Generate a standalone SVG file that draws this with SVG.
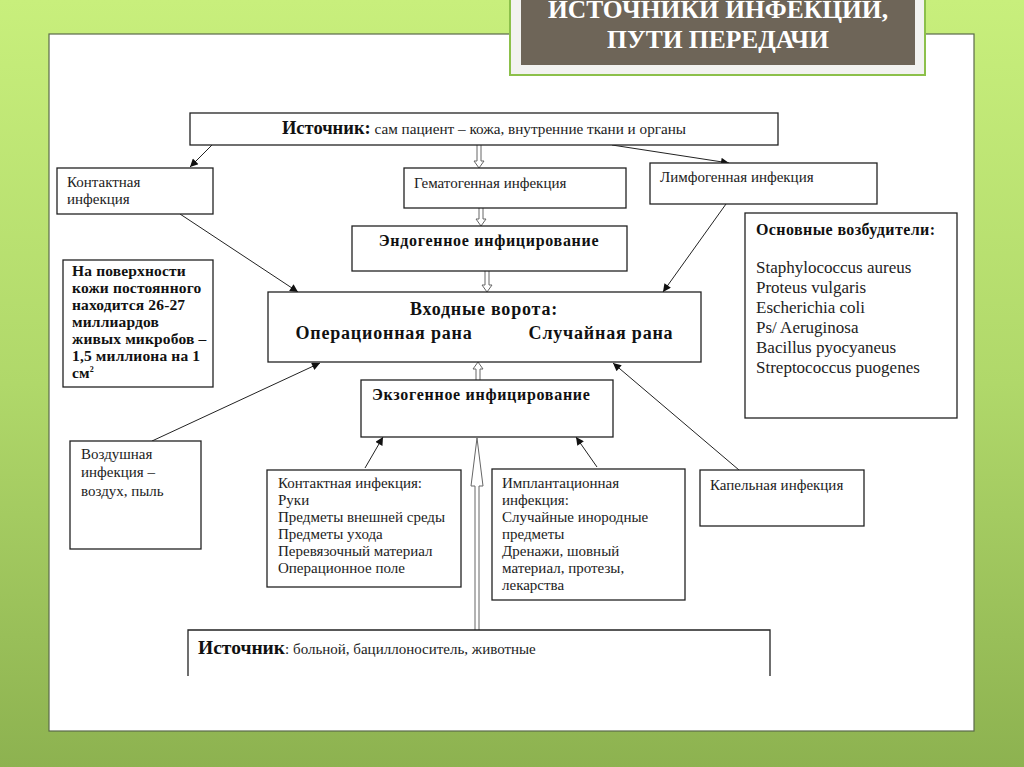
<svg xmlns="http://www.w3.org/2000/svg" width="1024" height="767" viewBox="0 0 1024 767">
<defs>
<linearGradient id="bg" x1="0" y1="0" x2="0" y2="1">
<stop offset="0" stop-color="#c8ef7c"/>
<stop offset="0.5" stop-color="#b0d86a"/>
<stop offset="1" stop-color="#8db250"/>
</linearGradient>
<marker id="ah" viewBox="0 0 10 10" refX="10" refY="5" markerWidth="9" markerHeight="8" markerUnits="userSpaceOnUse" orient="auto">
<path d="M0,0 L10,5 L0,10 z" fill="#111"/>
</marker>
<style>
.box{fill:#fff;stroke:#222;stroke-width:1.3}
.t{font-family:"Liberation Serif","Times New Roman",serif;font-size:15px;fill:#222}
.b{font-family:"Liberation Serif","Times New Roman",serif;font-weight:bold;fill:#111}
.ln{stroke:#222;stroke-width:1;fill:none;marker-end:url(#ah)}
.ha{fill:#fff;stroke:#666;stroke-width:1}
</style>
</defs>
<rect x="0" y="0" width="1024" height="767" fill="url(#bg)"/>
<rect x="49" y="34" width="925" height="697" fill="#fff" stroke="#5a6a4a" stroke-width="1.2"/>
<g id="title">
<rect x="510" y="-2" width="415" height="77" fill="#f2f2f0" stroke="#8cc04a" stroke-width="2"/>
<rect x="521" y="-2" width="394" height="67" fill="#6e6558"/>
<text x="718" y="18" text-anchor="middle" class="b" style="font-size:25.5px;fill:#fff">ИСТОЧНИКИ ИНФЕКЦИИ,</text>
<text x="718" y="48" text-anchor="middle" class="b" style="font-size:25.5px;fill:#fff">ПУТИ ПЕРЕДАЧИ</text>
</g>
<g id="connectors">
<line class="ln" x1="212" y1="145" x2="190" y2="167"/>
<line class="ln" x1="612" y1="145" x2="729" y2="163"/>
<line class="ln" x1="180" y1="214" x2="298" y2="292"/>
<line class="ln" x1="726" y1="204" x2="663" y2="292"/>
<line class="ln" x1="152" y1="441" x2="320" y2="363"/>
<line class="ln" x1="365" y1="468" x2="383" y2="437"/>
<line class="ln" x1="597" y1="467" x2="576" y2="437"/>
<line class="ln" x1="739" y1="470" x2="613" y2="363"/>
<polyline class="ha" points="477,145 477,161 474,161 479,168 484,161 481,161 481,145"/>
<polyline class="ha" points="479,208 479,219 476,219 481,226 486,219 483,219 483,208"/>
<polyline class="ha" points="485,271 485,285 482,285 487,292 492,285 489,285 489,271"/>
<polyline class="ha" points="476,380 476,369 473,369 478,362 483,369 480,369 480,380"/>
<polyline class="ha" points="475,630 475,486 471,486 477,438 483,486 479,486 479,630"/>
</g>
<g id="src-top">
<rect class="box" x="190" y="113" width="588" height="32"/>
<text x="484" y="134" text-anchor="middle"><tspan class="b" style="font-size:18.5px">Источник:</tspan><tspan class="t" style="font-size:15.2px"> сам пациент – кожа, внутренние ткани и органы</tspan></text>
</g>
<g id="contact-top">
<rect class="box" x="57" y="168" width="156" height="46"/>
<text class="t" x="67" y="187">Контактная</text>
<text class="t" x="67" y="204">инфекция</text>
</g>
<g id="hemato">
<rect class="box" x="404" y="168" width="222" height="40"/>
<text class="t" x="414" y="188">Гематогенная инфекция</text>
</g>
<g id="lympho">
<rect class="box" x="650" y="163" width="227" height="41"/>
<text class="t" x="660" y="182">Лимфогенная инфекция</text>
</g>
<g id="endo">
<rect class="box" x="352" y="226" width="275" height="45"/>
<text class="b" x="489" y="246" text-anchor="middle" style="font-size:16px;letter-spacing:0.7px">Эндогенное инфицирование</text>
</g>
<g id="info">
<rect class="box" x="63" y="260" width="150" height="127"/>
<text class="b" style="font-size:15.5px;letter-spacing:0.15px">
<tspan x="72" y="276">На поверхности</tspan>
<tspan x="72" y="293">кожи постоянного</tspan>
<tspan x="72" y="310">находится 26-27</tspan>
<tspan x="72" y="327">миллиардов</tspan>
<tspan x="72" y="344">живых микробов –</tspan>
<tspan x="72" y="361">1,5 миллиона на 1</tspan>
<tspan x="72" y="378">см</tspan><tspan dy="-6" style="font-size:8px">2</tspan>
</text>
</g>
<g id="gate">
<rect class="box" x="268" y="292" width="433" height="70"/>
<text class="b" x="484" y="315" text-anchor="middle" style="font-size:18px;letter-spacing:0.8px">Входные ворота:</text>
<text class="b" x="384" y="339" text-anchor="middle" style="font-size:18px;letter-spacing:0.8px">Операционная рана</text>
<text class="b" x="601" y="339" text-anchor="middle" style="font-size:18px;letter-spacing:0.8px">Случайная рана</text>
</g>
<g id="pathogens">
<rect class="box" x="745" y="213" width="212" height="205"/>
<text class="b" x="756" y="235" style="font-size:16px;letter-spacing:0.4px">Основные возбудители:</text>
<text class="t" style="font-size:17px">
<tspan x="756" y="273">Staphylococcus aureus</tspan>
<tspan x="756" y="293">Proteus vulgaris</tspan>
<tspan x="756" y="313">Escherichia coli</tspan>
<tspan x="756" y="333">Ps/ Aeruginosa</tspan>
<tspan x="756" y="353">Bacillus pyocyaneus</tspan>
<tspan x="756" y="373">Streptococcus puogenes</tspan>
</text>
</g>
<g id="exo">
<rect class="box" x="361" y="380" width="252" height="57"/>
<text class="b" x="372" y="400" style="font-size:16px;letter-spacing:0.7px">Экзогенное инфицирование</text>
</g>
<g id="air">
<rect class="box" x="70" y="441" width="131" height="108"/>
<text class="t"><tspan x="81" y="459">Воздушная</tspan><tspan x="81" y="477">инфекция –</tspan><tspan x="81" y="496">воздух, пыль</tspan></text>
</g>
<g id="contact-exo">
<rect class="box" x="267" y="470" width="194" height="117"/>
<text class="t">
<tspan x="278" y="488">Контактная инфекция:</tspan>
<tspan x="278" y="505">Руки</tspan>
<tspan x="278" y="522">Предметы внешней среды</tspan>
<tspan x="278" y="539">Предметы ухода</tspan>
<tspan x="278" y="556">Перевязочный материал</tspan>
<tspan x="278" y="573">Операционное поле</tspan>
</text>
</g>
<g id="implant">
<rect class="box" x="492" y="469" width="193" height="131"/>
<text class="t">
<tspan x="502" y="488">Имплантационная</tspan>
<tspan x="502" y="505">инфекция:</tspan>
<tspan x="502" y="522">Случайные инородные</tspan>
<tspan x="502" y="539">предметы</tspan>
<tspan x="502" y="556">Дренажи, шовный</tspan>
<tspan x="502" y="573">материал, протезы,</tspan>
<tspan x="502" y="590">лекарства</tspan>
</text>
</g>
<g id="drop">
<rect class="box" x="700" y="470" width="164" height="56"/>
<text class="t" x="710" y="490">Капельная инфекция</text>
</g>
<g id="src-bottom">
<polyline points="188,676 188,630 770,630 770,676" fill="#fff" stroke="#222" stroke-width="1.3"/>
<text x="198" y="654"><tspan class="b" style="font-size:19.5px">Источник</tspan><tspan class="t" style="font-size:15px">: больной, бациллоноситель, животные</tspan></text>
</g>
</svg>
